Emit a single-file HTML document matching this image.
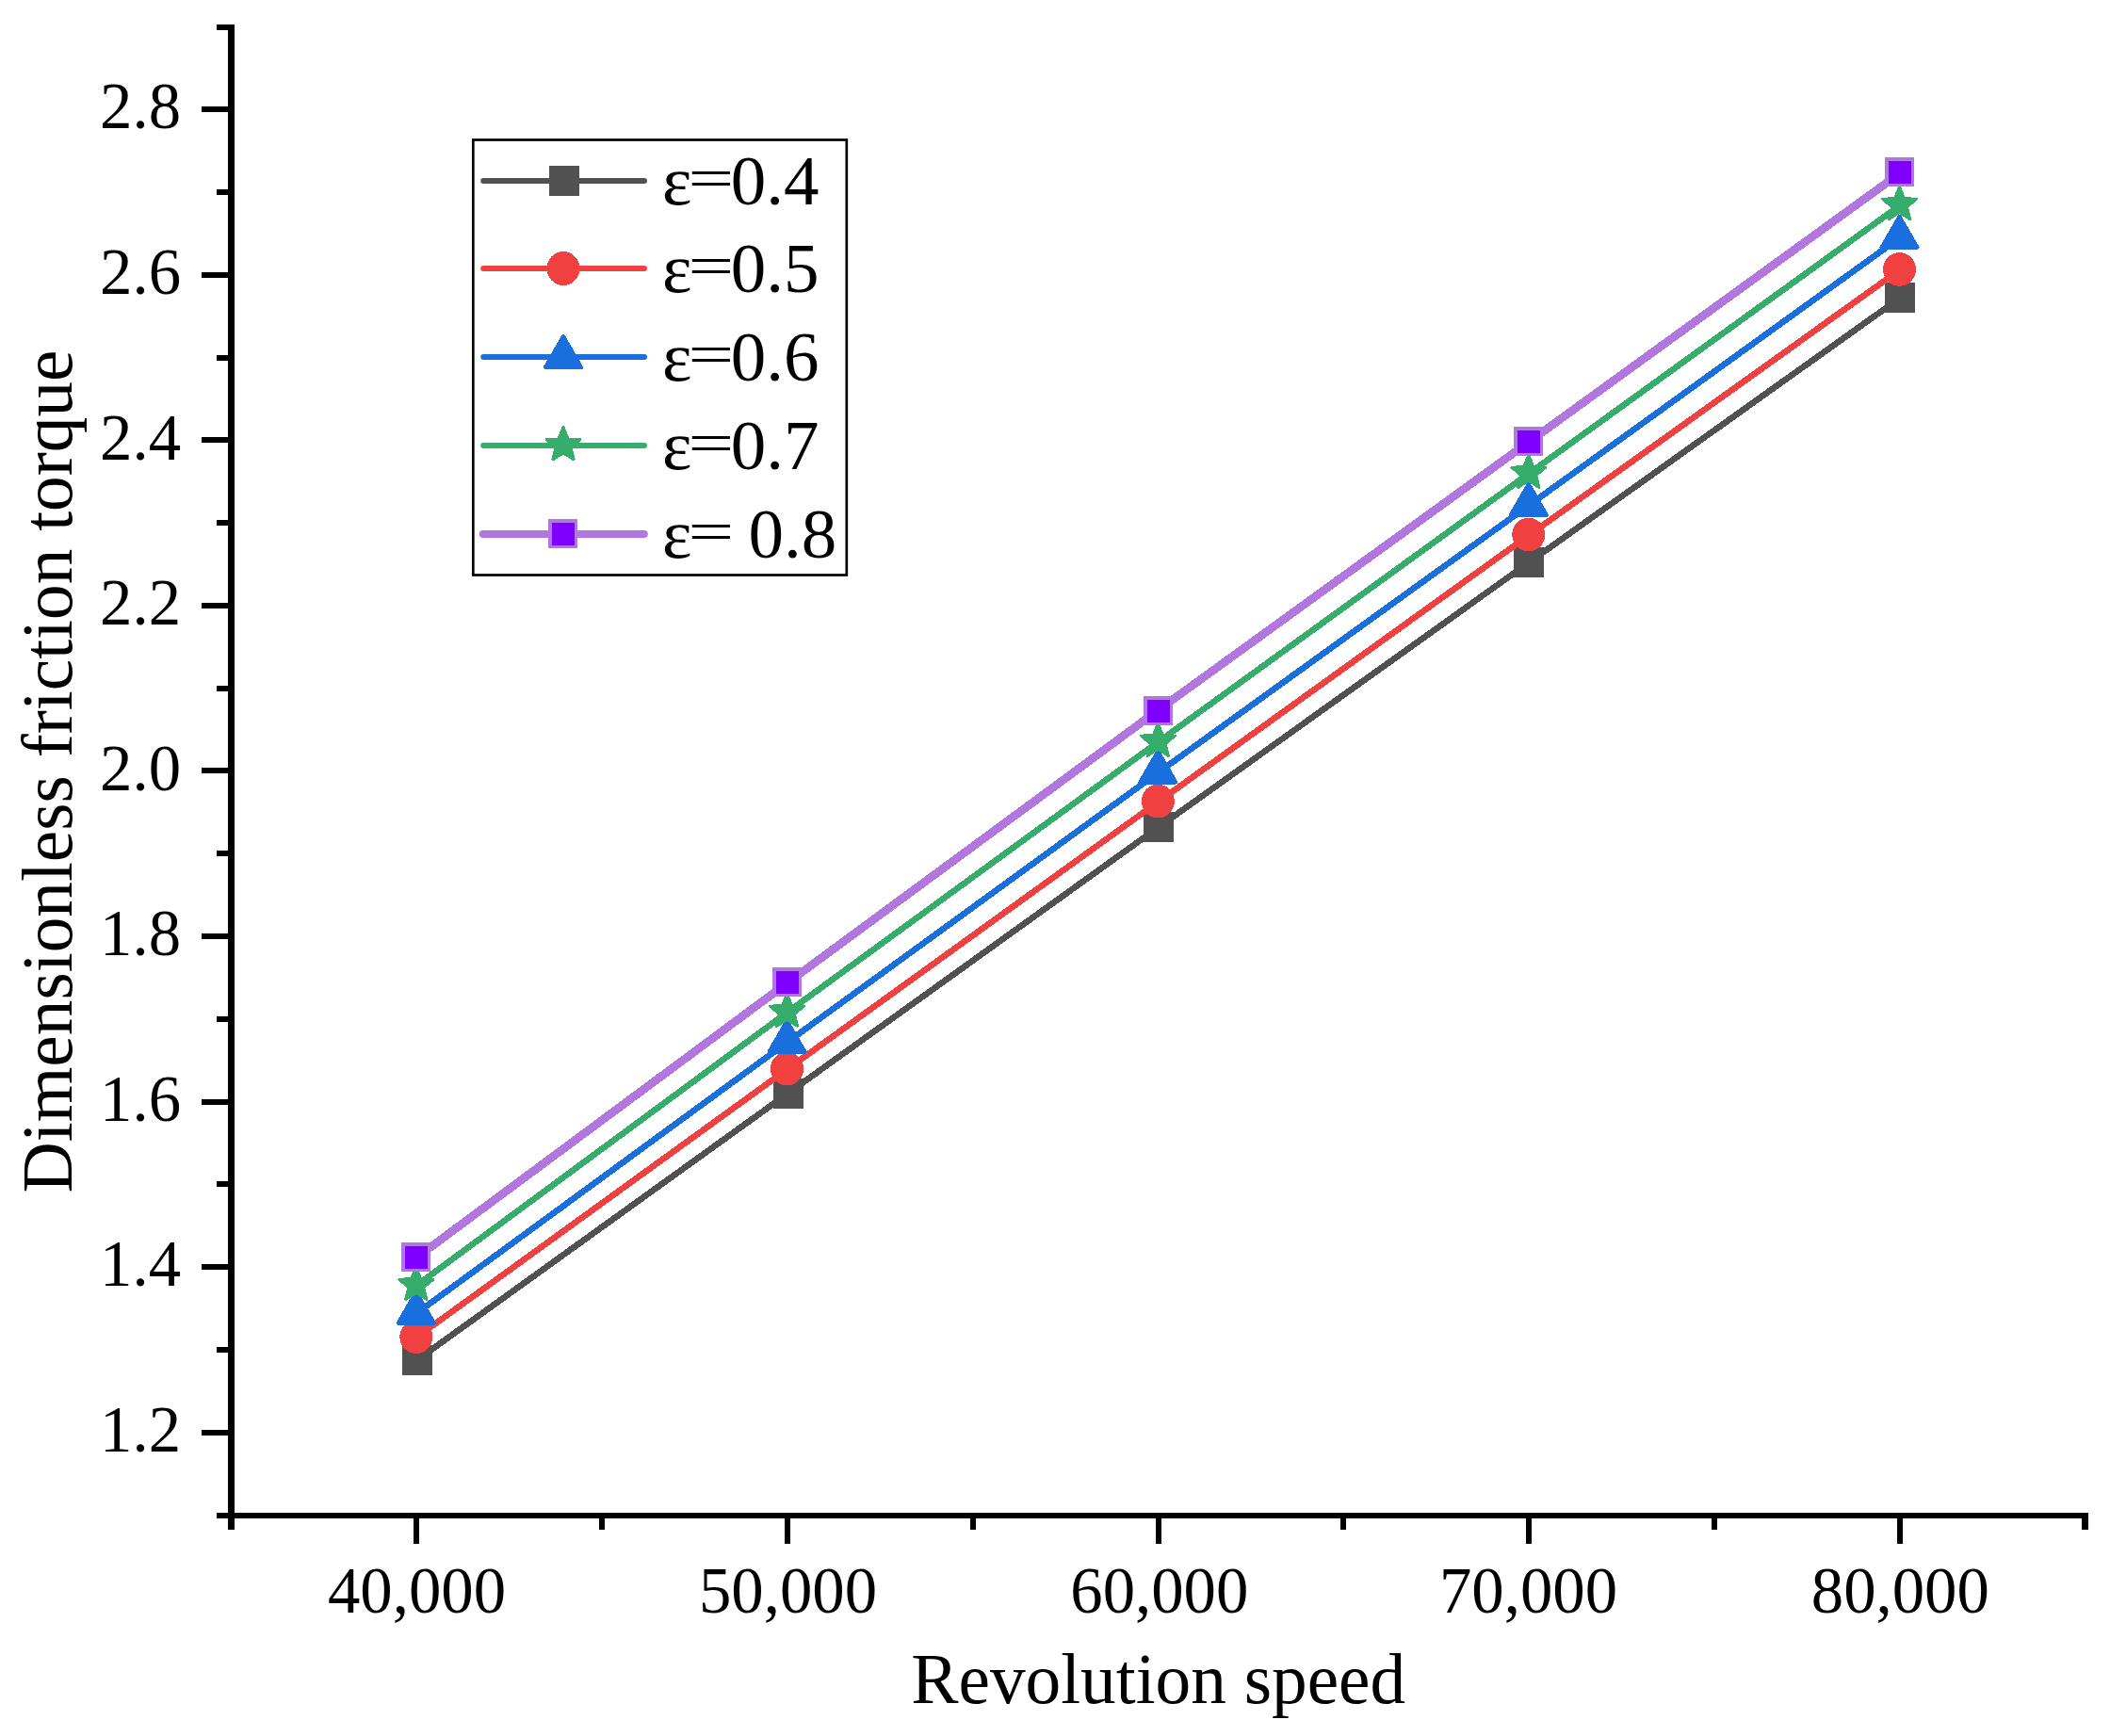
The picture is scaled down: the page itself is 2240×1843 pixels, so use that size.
<!DOCTYPE html>
<html lang="en"><head><meta charset="utf-8"><title>Dimensionless friction torque vs revolution speed</title>
<style>html,body{margin:0;padding:0;background:#fff}svg{display:block}text{white-space:pre;font-family:"Liberation Serif","Times New Roman",serif;fill:#000}</style></head><body>
<svg width="2240" height="1843" viewBox="0 0 2240 1843">
<rect width="2240" height="1843" fill="#fff"/>
<g shape-rendering="crispEdges"><polyline points="442.3,1444.2 836.0,1161.1 1229.8,878.3 1623.3,597.0 2017.0,316.4" fill="none" stroke="#515151" stroke-width="6.6" stroke-linejoin="round"/>
<rect x="427" y="1428" width="32" height="32" fill="#515151"/>
<rect x="821" y="1145" width="32" height="32" fill="#515151"/>
<rect x="1214" y="862" width="32" height="32" fill="#515151"/>
<rect x="1607" y="581" width="32" height="32" fill="#515151"/>
<rect x="2001" y="300" width="32" height="32" fill="#515151"/>
</g>
<g shape-rendering="crispEdges"><polyline points="442.3,1419.6 836.0,1135.0 1229.8,851.1 1623.3,568.1 2017.0,286.4" fill="none" stroke="#F14040" stroke-width="6.6" stroke-linejoin="round"/>
<ellipse cx="441.8" cy="1419.1" rx="17.5" ry="17.9" fill="#F14040"/>
<ellipse cx="835.5" cy="1134.5" rx="17.5" ry="17.9" fill="#F14040"/>
<ellipse cx="1229.3" cy="850.6" rx="17.5" ry="17.9" fill="#F14040"/>
<ellipse cx="1622.8" cy="567.6" rx="17.5" ry="17.9" fill="#F14040"/>
<ellipse cx="2016.5" cy="285.9" rx="17.5" ry="17.9" fill="#F14040"/>
</g>
<g shape-rendering="crispEdges"><polyline points="442.3,1394.2 836.0,1106.3 1229.8,820.0 1623.3,536.3 2017.0,252.3" fill="none" stroke="#1A6FDF" stroke-width="6.6" stroke-linejoin="round"/>
<polygon points="422.75,1404.7 460.85,1404.7 441.8,1371.7" fill="#1A6FDF" stroke="#1A6FDF" stroke-width="4" stroke-linejoin="round"/>
<polygon points="816.45,1116.8 854.55,1116.8 835.5,1083.8" fill="#1A6FDF" stroke="#1A6FDF" stroke-width="4" stroke-linejoin="round"/>
<polygon points="1210.25,830.5 1248.35,830.5 1229.3,797.5" fill="#1A6FDF" stroke="#1A6FDF" stroke-width="4" stroke-linejoin="round"/>
<polygon points="1603.75,546.8 1641.85,546.8 1622.8,513.8" fill="#1A6FDF" stroke="#1A6FDF" stroke-width="4" stroke-linejoin="round"/>
<polygon points="1997.45,262.8 2035.55,262.8 2016.5,229.8" fill="#1A6FDF" stroke="#1A6FDF" stroke-width="4" stroke-linejoin="round"/>
</g>
<g shape-rendering="crispEdges"><polyline points="442.3,1364.7 836.0,1074.6 1229.8,787.5 1623.3,502.6 2017.0,218.1" fill="none" stroke="#37AD6B" stroke-width="6.6" stroke-linejoin="round"/>
<polygon points="441.80,1345.40 446.62,1357.57 459.68,1358.39 449.60,1366.73 452.85,1379.41 441.80,1372.40 430.75,1379.41 434.00,1366.73 423.92,1358.39 436.98,1357.57" fill="#37AD6B" stroke="#37AD6B" stroke-width="3.1" stroke-linejoin="round"/>
<polygon points="835.50,1055.30 840.32,1067.47 853.38,1068.29 843.30,1076.63 846.55,1089.31 835.50,1082.30 824.45,1089.31 827.70,1076.63 817.62,1068.29 830.68,1067.47" fill="#37AD6B" stroke="#37AD6B" stroke-width="3.1" stroke-linejoin="round"/>
<polygon points="1229.30,768.20 1234.12,780.37 1247.18,781.19 1237.10,789.53 1240.35,802.21 1229.30,795.20 1218.25,802.21 1221.50,789.53 1211.42,781.19 1224.48,780.37" fill="#37AD6B" stroke="#37AD6B" stroke-width="3.1" stroke-linejoin="round"/>
<polygon points="1622.80,483.30 1627.62,495.47 1640.68,496.29 1630.60,504.63 1633.85,517.31 1622.80,510.30 1611.75,517.31 1615.00,504.63 1604.92,496.29 1617.98,495.47" fill="#37AD6B" stroke="#37AD6B" stroke-width="3.1" stroke-linejoin="round"/>
<polygon points="2016.50,198.40 2021.32,210.57 2034.38,211.39 2024.30,219.73 2027.55,232.41 2016.50,225.40 2005.45,232.41 2008.70,219.73 1998.62,211.39 2011.68,210.57" fill="#37AD6B" stroke="#37AD6B" stroke-width="3.1" stroke-linejoin="round"/>
</g>
<g shape-rendering="crispEdges"><polyline points="442.3,1335.0 836.0,1043.4 1230.0,753.6 1623.3,469.0 2017.0,183.9" fill="none" stroke="#B177DE" stroke-width="8.8" stroke-linejoin="round"/>
<rect x="426" y="1319" width="31" height="31" fill="#B177DE"/><rect x="430" y="1323" width="24" height="24" fill="#7F00FF"/>
<rect x="820" y="1027" width="31" height="31" fill="#B177DE"/><rect x="824" y="1031" width="24" height="24" fill="#7F00FF"/>
<rect x="1214" y="739" width="31" height="31" fill="#B177DE"/><rect x="1218" y="743" width="24" height="24" fill="#7F00FF"/>
<rect x="1607" y="453" width="31" height="31" fill="#B177DE"/><rect x="1611" y="457" width="24" height="24" fill="#7F00FF"/>
<rect x="2001" y="167" width="31" height="31" fill="#B177DE"/><rect x="2005" y="171" width="24" height="24" fill="#7F00FF"/>
</g>
<g fill="#000">
<rect x="242" y="26" width="7" height="1598"/>
<rect x="230" y="1606" width="1987" height="6"/>
<rect x="214" y="1518" width="28" height="6"/>
<rect x="230" y="1430" width="12" height="6"/>
<rect x="214" y="1342" width="28" height="6"/>
<rect x="230" y="1254" width="12" height="6"/>
<rect x="214" y="1167" width="28" height="6"/>
<rect x="230" y="1079" width="12" height="6"/>
<rect x="214" y="991" width="28" height="6"/>
<rect x="230" y="903" width="12" height="6"/>
<rect x="214" y="815" width="28" height="6"/>
<rect x="230" y="728" width="12" height="6"/>
<rect x="214" y="640" width="28" height="6"/>
<rect x="230" y="552" width="12" height="6"/>
<rect x="214" y="464" width="28" height="6"/>
<rect x="230" y="377" width="12" height="6"/>
<rect x="214" y="289" width="28" height="6"/>
<rect x="230" y="201" width="12" height="6"/>
<rect x="214" y="113" width="28" height="6"/>
<rect x="230" y="26" width="12" height="6"/>
<rect x="439" y="1612" width="6" height="27"/>
<rect x="636" y="1612" width="6" height="12"/>
<rect x="833" y="1612" width="6" height="27"/>
<rect x="1030" y="1612" width="6" height="12"/>
<rect x="1227" y="1612" width="6" height="27"/>
<rect x="1423" y="1612" width="6" height="12"/>
<rect x="1620" y="1612" width="6" height="27"/>
<rect x="1817" y="1612" width="6" height="12"/>
<rect x="2014" y="1612" width="6" height="27"/>
<rect x="2210" y="1612" width="7" height="12"/>
</g>
<g font-size="68.75px" text-anchor="end">
<text x="192" y="1540.8">1.2</text>
<text x="192" y="1365.3">1.4</text>
<text x="192" y="1189.7">1.6</text>
<text x="192" y="1014.1">1.8</text>
<text x="192" y="838.6">2.0</text>
<text x="192" y="663.0">2.2</text>
<text x="192" y="487.5">2.4</text>
<text x="192" y="311.9">2.6</text>
<text x="192" y="136.3">2.8</text>
</g>
<g font-size="68.75px" text-anchor="middle">
<text x="442.5" y="1712.4">40,000</text>
<text x="836.5" y="1712.4">50,000</text>
<text x="1230.8" y="1712.4">60,000</text>
<text x="1622.5" y="1712.4">70,000</text>
<text x="2017.3" y="1712.4">80,000</text>
</g>
<text x="1229.7" y="1807.8" font-size="75.3px" text-anchor="middle">Revolution speed</text>
<text transform="translate(76,819) rotate(-90)" font-size="75.3px" text-anchor="middle">Dimensionless friction torque</text>
<rect x="502.3" y="148.5" width="396.5" height="462" fill="#fff" stroke="#000" stroke-width="2.7"/>
<line x1="513.2" y1="192" x2="684" y2="192" stroke="#515151" stroke-width="6" stroke-linecap="round"/>
<g shape-rendering="crispEdges"><rect x="583" y="176" width="32" height="32" fill="#515151"/></g>
<text x="703" y="216.5" font-size="75px" xml:space="preserve">ε<tspan font-size="61px" dy="-6.2" dx="-4" textLength="48.7" lengthAdjust="spacingAndGlyphs">=</tspan><tspan dy="6.2" dx="-3.4">0.4</tspan></text>
<line x1="513.2" y1="285" x2="684" y2="285" stroke="#F14040" stroke-width="6" stroke-linecap="round"/>
<g shape-rendering="crispEdges"><ellipse cx="598.0" cy="285.0" rx="17.5" ry="17.9" fill="#F14040"/></g>
<text x="703" y="309.5" font-size="75px" xml:space="preserve">ε<tspan font-size="61px" dy="-6.2" dx="-4" textLength="48.7" lengthAdjust="spacingAndGlyphs">=</tspan><tspan dy="6.2" dx="-3.4">0.5</tspan></text>
<line x1="513.2" y1="379" x2="684" y2="379" stroke="#1A6FDF" stroke-width="6" stroke-linecap="round"/>
<g shape-rendering="crispEdges"><polygon points="578.95,390.0 617.05,390.0 598.0,357.0" fill="#1A6FDF" stroke="#1A6FDF" stroke-width="4" stroke-linejoin="round"/></g>
<text x="703" y="403.5" font-size="75px" xml:space="preserve">ε<tspan font-size="61px" dy="-6.2" dx="-4" textLength="48.7" lengthAdjust="spacingAndGlyphs">=</tspan><tspan dy="6.2" dx="-3.4">0.6</tspan></text>
<line x1="513.2" y1="473" x2="684" y2="473" stroke="#37AD6B" stroke-width="6" stroke-linecap="round"/>
<g shape-rendering="crispEdges"><polygon points="598.00,453.80 602.82,465.97 615.88,466.79 605.80,475.13 609.05,487.81 598.00,480.80 586.95,487.81 590.20,475.13 580.12,466.79 593.18,465.97" fill="#37AD6B" stroke="#37AD6B" stroke-width="3.1" stroke-linejoin="round"/></g>
<text x="703" y="497.5" font-size="75px" xml:space="preserve">ε<tspan font-size="61px" dy="-6.2" dx="-4" textLength="48.7" lengthAdjust="spacingAndGlyphs">=</tspan><tspan dy="6.2" dx="-3.4">0.7</tspan></text>
<line x1="512.8" y1="567" x2="683.8" y2="567" stroke="#B177DE" stroke-width="8" stroke-linecap="round"/>
<g shape-rendering="crispEdges"><rect x="582" y="551" width="31" height="31" fill="#B177DE"/><rect x="586" y="555" width="24" height="24" fill="#7F00FF"/></g>
<text x="703" y="591.5" font-size="75px" xml:space="preserve">ε<tspan font-size="61px" dy="-6.2" dx="-4" textLength="48.7" lengthAdjust="spacingAndGlyphs">=</tspan><tspan dy="6.2" dx="-3.4"> 0.8</tspan></text>
</svg></body></html>
